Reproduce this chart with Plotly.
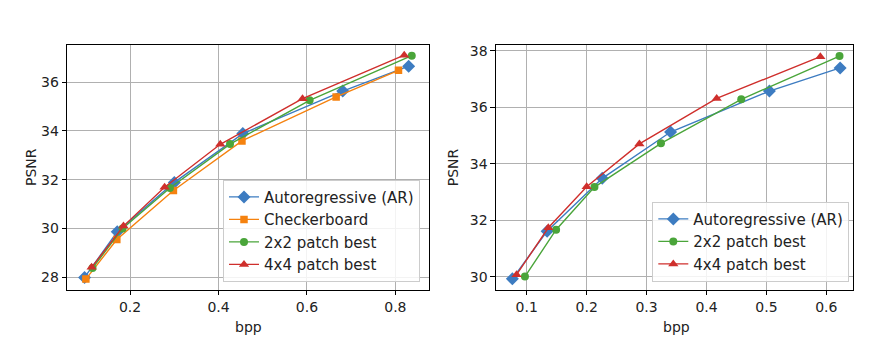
import plotly.graph_objects as go

# ---- Left panel data ----
L_ar_x = [0.097, 0.171, 0.300, 0.455, 0.681, 0.830]
L_ar_y = [28.00, 29.87, 31.89, 33.89, 35.63, 36.65]
L_cb_x = [0.100, 0.170, 0.298, 0.453, 0.666, 0.807]
L_cb_y = [27.93, 29.55, 31.56, 33.59, 35.39, 36.48]
L_p2_x = [0.115, 0.183, 0.290, 0.426, 0.606, 0.837]
L_p2_y = [28.38, 30.00, 31.66, 33.46, 35.25, 37.08]
L_p4_x = [0.113, 0.185, 0.278, 0.404, 0.590, 0.820]
L_p4_y = [28.41, 30.10, 31.69, 33.45, 35.32, 37.10]

# ---- Right panel data ----
R_ar_x = [0.076, 0.134, 0.226, 0.340, 0.505, 0.623]
R_ar_y = [29.92, 31.61, 33.48, 35.12, 36.57, 37.39]
R_p2_x = [0.097, 0.149, 0.213, 0.324, 0.458, 0.622]
R_p2_y = [30.00, 31.66, 33.17, 34.72, 36.28, 37.81]
R_p4_x = [0.083, 0.136, 0.200, 0.288, 0.417, 0.590]
R_p4_y = [30.07, 31.73, 33.18, 34.70, 36.31, 37.79]

L_xticks = [0.2, 0.4, 0.6, 0.8]
L_yticks = [28, 30, 32, 34, 36]
R_xticks = [0.1, 0.2, 0.3, 0.4, 0.5, 0.6]
R_yticks = [30, 32, 34, 36, 38]

names = ["Autoregressive (AR)", "Checkerboard", "2x2 patch best", "4x4 patch best"]
C_BLUE, C_ORANGE, C_GREEN, C_RED = "#3d7cc1", "#f5820f", "#4aa53a", "#cf2f2c"
FONT = "DejaVu Sans"

fig = go.Figure()

def add(x, y, name, color, symbol, msize, xa, ya, legend):
    fig.add_trace(go.Scatter(
        x=x, y=y, name=name, mode="lines+markers",
        line=dict(color=color, width=1.4),
        marker=dict(color=color, symbol=symbol, size=msize, line=dict(width=0)),
        xaxis=xa, yaxis=ya, legend=legend))

add(L_ar_x, L_ar_y, names[0], C_BLUE, "diamond", 10, "x", "y", "legend")
add(L_cb_x, L_cb_y, names[1], C_ORANGE, "square", 7.5, "x", "y", "legend")
add(L_p2_x, L_p2_y, names[2], C_GREEN, "circle", 8, "x", "y", "legend")
add(L_p4_x, L_p4_y, names[3], C_RED, "triangle-up", 9, "x", "y", "legend")

add(R_ar_x, R_ar_y, names[0], C_BLUE, "diamond", 10, "x2", "y2", "legend2")
add(R_p2_x, R_p2_y, names[2], C_GREEN, "circle", 8, "x2", "y2", "legend2")
add(R_p4_x, R_p4_y, names[3], C_RED, "triangle-up", 9, "x2", "y2", "legend2")

axcommon = dict(showgrid=True, gridcolor="#b0b0b0", gridwidth=0.8,
                showline=True, linecolor="black", linewidth=1.1, mirror=True,
                ticks="outside", ticklen=4.5, tickwidth=1, tickcolor="black",
                zeroline=False, tickfont=dict(family=FONT, size=14, color="#222"))

W, H = 891, 358
def px(xp): return xp / W
def py(yp): return (H - yp) / H

legend_common = dict(xanchor="right", yanchor="bottom",
                     bgcolor="rgba(255,255,255,0.85)", bordercolor="#cccccc", borderwidth=1,
                     font=dict(family=FONT, size=15, color="#222"), itemwidth=30,
                     tracegroupgap=0)

fig.update_layout(
    width=W, height=H, margin=dict(l=0, r=0, t=0, b=0),
    paper_bgcolor="white", plot_bgcolor="white",
    xaxis=dict(domain=[px(67.3), px(429)], range=[0.058, 0.876],
               tickvals=L_xticks, ticktext=[str(v) for v in L_xticks], anchor="y", **axcommon),
    yaxis=dict(domain=[py(289), py(42.3)], range=[27.5, 37.52],
               tickvals=L_yticks, anchor="x", **axcommon),
    xaxis2=dict(domain=[px(496), px(852.7)], range=[0.0487, 0.644],
                tickvals=R_xticks, ticktext=[str(v) for v in R_xticks], anchor="y2", **axcommon),
    yaxis2=dict(domain=[py(289.3), py(42.7)], range=[29.53, 38.19],
                tickvals=R_yticks, anchor="x2", **axcommon),
    legend=dict(x=px(420), y=py(281), **legend_common),
    legend2=dict(x=px(849.3), y=py(281), **legend_common),
    annotations=[
        dict(text="bpp", x=px(248.3), y=py(326.7), xref="paper", yref="paper",
             showarrow=False, xanchor="center", yanchor="middle",
             font=dict(family=FONT, size=14, color="#222")),
        dict(text="bpp", x=px(676.7), y=py(326.7), xref="paper", yref="paper",
             showarrow=False, xanchor="center", yanchor="middle",
             font=dict(family=FONT, size=14, color="#222")),
        dict(text="PSNR", x=px(31.7), y=py(165.7), xref="paper", yref="paper",
             showarrow=False, xanchor="center", yanchor="middle", textangle=-90,
             font=dict(family=FONT, size=14, color="#222")),
        dict(text="PSNR", x=px(452.7), y=py(166), xref="paper", yref="paper",
             showarrow=False, xanchor="center", yanchor="middle", textangle=-90,
             font=dict(family=FONT, size=14, color="#222")),
    ],
)

fig.write_html("out.html", config={"displayModeBar": False},
               post_script="document.body.style.margin='0';document.body.style.padding='0';")
